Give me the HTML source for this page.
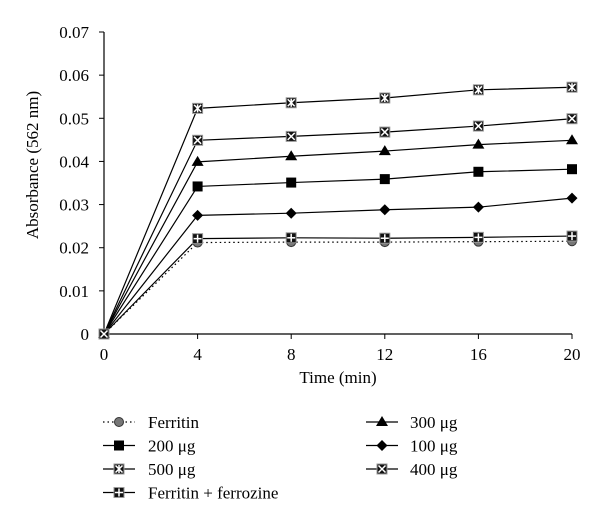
<!DOCTYPE html>
<html><head><meta charset="utf-8"><style>
body{margin:0;background:#fff;}
svg{display:block;font-family:"Liberation Serif",serif;}
</style></head><body>
<svg id="chart" width="600" height="524" xmlns="http://www.w3.org/2000/svg">
<g id="axes"></g><g id="series"></g><g id="legend"></g>
</svg>
<script>
const times = [0, 4, 8, 12, 16, 20];
const xTicks = [0, 4, 8, 12, 16, 20];
const yTicks = [0, 0.01, 0.02, 0.03, 0.04, 0.05, 0.06, 0.07];
const yTickLabels = ["0", "0.01", "0.02", "0.03", "0.04", "0.05", "0.06", "0.07"];
const ferritin = [0, 0.0212, 0.0213, 0.0213, 0.0214, 0.0215];
const ug200 = [0, 0.0342, 0.0351, 0.0359, 0.0376, 0.0382];
const ug500 = [0, 0.0523, 0.0536, 0.0547, 0.0566, 0.0572];
const ferrozine = [0, 0.0221, 0.0223, 0.0222, 0.0224, 0.0227];
const ug300 = [0, 0.0399, 0.0412, 0.0424, 0.0439, 0.0449];
const ug100 = [0, 0.0275, 0.0280, 0.0288, 0.0294, 0.0315];
const ug400 = [0, 0.0449, 0.0458, 0.0468, 0.0482, 0.0499];

const NS = "http://www.w3.org/2000/svg";
const X0 = 104, X1 = 572, Y0 = 334, Y1 = 32;
function xs(t){ return X0 + (t - 0) / 20 * (X1 - X0); }
function ys(v){ return Y0 - v / 0.07 * (Y0 - Y1); }
function mk(tag, attrs, parent){ const e = document.createElementNS(NS, tag); for (const k in attrs) e.setAttribute(k, attrs[k]); parent.appendChild(e); return e; }

const axes = document.getElementById('axes');
const yAxis = mk('line', {x1:X0, y1:Y1, x2:X0, y2:Y0, stroke:'#000', 'stroke-width':1.2}, axes);


const xAxis = mk('line', {x1:X0, y1:Y0, x2:X1, y2:Y0, stroke:'#000', 'stroke-width':1.2}, axes);


yTicks.forEach((v, i) => {
  mk('line', {x1:X0-5, y1:ys(v), x2:X0, y2:ys(v), stroke:'#000'}, axes);
  const t = mk('text', {x:X0-15, y:ys(v)+6, 'text-anchor':'end', 'font-size':17}, axes);
  t.textContent = yTickLabels[i];
  
  
});
xTicks.forEach(v => {
  mk('line', {x1:xs(v), y1:Y0, x2:xs(v), y2:Y0+5, stroke:'#000'}, axes);
  const t = mk('text', {x:xs(v), y:Y0+26, 'text-anchor':'middle', 'font-size':17}, axes);
  t.textContent = String(v);
  
  
});
const xt = mk('text', {x:338, y:383, 'text-anchor':'middle', 'font-size':17}, axes);
xt.textContent = 'Time (min)';


const yt = mk('text', {x:0, y:0, 'text-anchor':'middle', 'font-size':17, transform:'translate(38,165) rotate(-90)'}, axes);
yt.textContent = 'Absorbance (562 nm)';



function marker(type, x, y, g){
  if (type === 'circle') { mk('circle', {cx:x, cy:y, r:4.5, fill:'#777', stroke:'#333', 'stroke-width':1}, g); }
  else if (type === 'square') { mk('rect', {x:x-5, y:y-5, width:10, height:10, fill:'#000'}, g); }
  else if (type === 'triangle') { mk('polygon', {points:`${x},${y-6} ${x+6},${y+4} ${x-6},${y+4}`, fill:'#000'}, g); }
  else if (type === 'diamond') { mk('polygon', {points:`${x},${y-5.5} ${x+5.5},${y} ${x},${y+5.5} ${x-5.5},${y}`, fill:'#000'}, g); }
  else {
    mk('rect', {x:x-5, y:y-5, width:10, height:10, fill:'#111', stroke:'#999', 'stroke-width':1}, g);
    if (type === 'xbox' || type === 'star') {
      mk('line', {x1:x-3.5, y1:y-3.5, x2:x+3.5, y2:y+3.5, stroke:'#fff', 'stroke-width':1.5}, g);
      mk('line', {x1:x-3.5, y1:y+3.5, x2:x+3.5, y2:y-3.5, stroke:'#fff', 'stroke-width':1.5}, g);
    }
    if (type === 'star' || type === 'plus') {
      mk('line', {x1:x, y1:y-4, x2:x, y2:y+4, stroke:'#fff', 'stroke-width':1.5}, g);
    }
    if (type === 'plus') mk('line', {x1:x-4, y1:y, x2:x+4, y2:y, stroke:'#fff', 'stroke-width':1.5}, g);
  }
}
const seriesDefs = [
  {name:'ferritin', label:'Ferritin', vals:ferritin, m:'circle', dash:true},
  {name:'200ug', label:'200 μg', vals:ug200, m:'square'},
  {name:'500ug', label:'500 μg', vals:ug500, m:'star'},
  {name:'ferritin-ferrozine', label:'Ferritin + ferrozine', vals:ferrozine, m:'plus'},
  {name:'300ug', label:'300 μg', vals:ug300, m:'triangle'},
  {name:'100ug', label:'100 μg', vals:ug100, m:'diamond'},
  {name:'400ug', label:'400 μg', vals:ug400, m:'xbox'}
];
const sg = document.getElementById('series');
seriesDefs.forEach(s => {
  const g = mk('g', {}, sg);
  
  
  const pts = times.map((t, i) => xs(t) + ',' + ys(s.vals[i])).join(' ');
  const pl = mk('polyline', {points:pts, fill:'none', stroke:'#000', 'stroke-width':1.2}, g);
  if (s.dash) { pl.setAttribute('stroke-dasharray', '1.5,3'); }
  
  
  times.forEach((t, i) => marker(s.m, xs(t), ys(s.vals[i]), g));
});
const lg = document.getElementById('legend');
seriesDefs.forEach((s, i) => {
  const col = i < 4 ? 0 : 1;
  const row = i < 4 ? i : i - 4;
  const cx = col === 0 ? 119 : 382;
  const tx = col === 0 ? 148 : 410;
  const y = 422 + row * 23.5;
  const g = mk('g', {}, lg);
  
  
  const l = mk('line', {x1:cx-16, y1:y, x2:cx+16, y2:y, stroke:'#000', 'stroke-width':1.2}, g);
  if (s.dash) l.setAttribute('stroke-dasharray', '1.5,3');
  marker(s.m, cx, y, g);
  const t = mk('text', {x:tx, y:y+6, 'font-size':17}, g);
  t.textContent = s.label;
});
</script>
</body></html>
